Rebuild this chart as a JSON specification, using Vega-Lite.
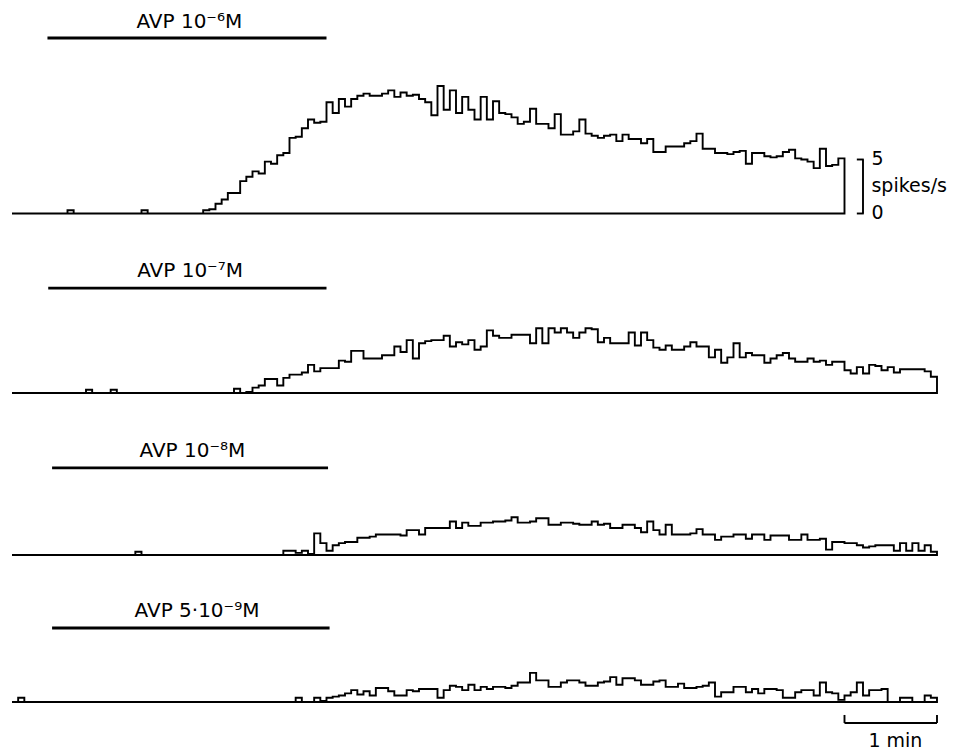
{
"$schema": "https://vega.github.io/schema/vega-lite/v6.json",
"padding": 0,
"spacing": 0,
"background": "white",
"config": {"view": {"stroke": null}, "axis": {"disable": true}, "text": {"font": "DejaVu Sans", "color": "black"}},
"resolve": {"scale": {"x": "independent", "y": "independent"}},
"datasets": {
"app": [
{"p":1,"start":23,"end":204,"label":"AVP 10⁻⁶M"},
{"p":2,"start":23.5,"end":204,"label":"AVP 10⁻⁷M"},
{"p":3,"start":26,"end":205,"label":"AVP 10⁻⁸M"},
{"p":4,"start":26,"end":206,"label":"AVP 5·10⁻⁹M"}
],
"hist": [
{"p":1,"t":0,"r":0},{"p":1,"t":4,"r":0},{"p":1,"t":8,"r":0},{"p":1,"t":12,"r":0},{"p":1,"t":16,"r":0},{"p":1,"t":20,"r":0},{"p":1,"t":24,"r":0},{"p":1,"t":28,"r":0},{"p":1,"t":32,"r":0},{"p":1,"t":36,"r":0.3},
{"p":1,"t":40,"r":0},{"p":1,"t":44,"r":0},{"p":1,"t":48,"r":0},{"p":1,"t":52,"r":0},{"p":1,"t":56,"r":0},{"p":1,"t":60,"r":0},{"p":1,"t":64,"r":0},{"p":1,"t":68,"r":0},{"p":1,"t":72,"r":0},{"p":1,"t":76,"r":0},
{"p":1,"t":80,"r":0},{"p":1,"t":84,"r":0.3},{"p":1,"t":88,"r":0},{"p":1,"t":92,"r":0},{"p":1,"t":96,"r":0},{"p":1,"t":100,"r":0},{"p":1,"t":104,"r":0},{"p":1,"t":108,"r":0},{"p":1,"t":112,"r":0},{"p":1,"t":116,"r":0},
{"p":1,"t":120,"r":0},{"p":1,"t":124,"r":0.3},{"p":1,"t":128,"r":0.4},{"p":1,"t":132,"r":0.9},{"p":1,"t":136,"r":1.3},{"p":1,"t":140,"r":1.9},{"p":1,"t":144,"r":1.9},{"p":1,"t":148,"r":3.0},{"p":1,"t":152,"r":3.4},{"p":1,"t":156,"r":3.9},
{"p":1,"t":160,"r":3.7},{"p":1,"t":164,"r":4.8},{"p":1,"t":168,"r":4.6},{"p":1,"t":172,"r":5.4},{"p":1,"t":176,"r":5.6},{"p":1,"t":180,"r":7.0},{"p":1,"t":184,"r":7.1},{"p":1,"t":188,"r":7.9},{"p":1,"t":192,"r":8.7},{"p":1,"t":196,"r":8.4},
{"p":1,"t":200,"r":8.5},{"p":1,"t":204,"r":10.3},{"p":1,"t":208,"r":9.3},{"p":1,"t":212,"r":10.6},{"p":1,"t":216,"r":9.9},{"p":1,"t":220,"r":10.6},{"p":1,"t":224,"r":10.9},{"p":1,"t":228,"r":11.1},{"p":1,"t":232,"r":10.9},{"p":1,"t":236,"r":10.9},
{"p":1,"t":240,"r":11.1},{"p":1,"t":244,"r":11.4},{"p":1,"t":248,"r":10.8},{"p":1,"t":252,"r":11.2},{"p":1,"t":256,"r":10.9},{"p":1,"t":260,"r":11.0},{"p":1,"t":264,"r":10.6},{"p":1,"t":268,"r":10.3},{"p":1,"t":272,"r":9.1},{"p":1,"t":276,"r":11.8},
{"p":1,"t":280,"r":9.6},{"p":1,"t":284,"r":11.4},{"p":1,"t":288,"r":9.3},{"p":1,"t":292,"r":10.8},{"p":1,"t":296,"r":9.6},{"p":1,"t":300,"r":8.7},{"p":1,"t":304,"r":10.8},{"p":1,"t":308,"r":8.7},{"p":1,"t":312,"r":10.4},{"p":1,"t":316,"r":9.3},
{"p":1,"t":320,"r":9.2},{"p":1,"t":324,"r":8.9},{"p":1,"t":328,"r":8.3},{"p":1,"t":332,"r":8.5},{"p":1,"t":336,"r":9.7},{"p":1,"t":340,"r":8.3},{"p":1,"t":344,"r":8.3},{"p":1,"t":348,"r":7.9},{"p":1,"t":352,"r":9.2},{"p":1,"t":356,"r":7.3},
{"p":1,"t":360,"r":7.3},{"p":1,"t":364,"r":7.6},{"p":1,"t":368,"r":8.7},{"p":1,"t":372,"r":7.4},{"p":1,"t":376,"r":7.2},{"p":1,"t":380,"r":7.0},{"p":1,"t":384,"r":7.2},{"p":1,"t":388,"r":7.3},{"p":1,"t":392,"r":6.7},{"p":1,"t":396,"r":7.3},
{"p":1,"t":400,"r":6.9},{"p":1,"t":404,"r":6.9},{"p":1,"t":408,"r":6.5},{"p":1,"t":412,"r":6.9},{"p":1,"t":416,"r":5.7},{"p":1,"t":420,"r":5.7},{"p":1,"t":424,"r":6.2},{"p":1,"t":428,"r":6.2},{"p":1,"t":432,"r":6.2},{"p":1,"t":436,"r":6.5},
{"p":1,"t":440,"r":6.7},{"p":1,"t":444,"r":7.4},{"p":1,"t":448,"r":6.0},{"p":1,"t":452,"r":6.0},{"p":1,"t":456,"r":5.6},{"p":1,"t":460,"r":5.6},{"p":1,"t":464,"r":5.5},{"p":1,"t":468,"r":5.7},{"p":1,"t":472,"r":5.8},{"p":1,"t":476,"r":4.6},
{"p":1,"t":480,"r":5.6},{"p":1,"t":484,"r":5.6},{"p":1,"t":488,"r":5.3},{"p":1,"t":492,"r":5.2},{"p":1,"t":496,"r":5.3},{"p":1,"t":500,"r":5.7},{"p":1,"t":504,"r":5.9},{"p":1,"t":508,"r":5.1},{"p":1,"t":512,"r":5.0},{"p":1,"t":516,"r":4.8},
{"p":1,"t":520,"r":4.2},{"p":1,"t":524,"r":6.0},{"p":1,"t":528,"r":4.4},{"p":1,"t":532,"r":4.5},{"p":1,"t":536,"r":5.1},{"p":1,"t":540,"r":5.1},

{"p":2,"t":0,"r":0},{"p":2,"t":4,"r":0},{"p":2,"t":8,"r":0},{"p":2,"t":12,"r":0},{"p":2,"t":16,"r":0},{"p":2,"t":20,"r":0},{"p":2,"t":24,"r":0},{"p":2,"t":28,"r":0},{"p":2,"t":32,"r":0},{"p":2,"t":36,"r":0},
{"p":2,"t":40,"r":0},{"p":2,"t":44,"r":0},{"p":2,"t":48,"r":0.3},{"p":2,"t":52,"r":0},{"p":2,"t":56,"r":0},{"p":2,"t":60,"r":0},{"p":2,"t":64,"r":0.3},{"p":2,"t":68,"r":0},{"p":2,"t":72,"r":0},{"p":2,"t":76,"r":0},
{"p":2,"t":80,"r":0},{"p":2,"t":84,"r":0},{"p":2,"t":88,"r":0},{"p":2,"t":92,"r":0},{"p":2,"t":96,"r":0},{"p":2,"t":100,"r":0},{"p":2,"t":104,"r":0},{"p":2,"t":108,"r":0},{"p":2,"t":112,"r":0},{"p":2,"t":116,"r":0},
{"p":2,"t":120,"r":0},{"p":2,"t":124,"r":0},{"p":2,"t":128,"r":0},{"p":2,"t":132,"r":0},{"p":2,"t":136,"r":0},{"p":2,"t":140,"r":0},{"p":2,"t":144,"r":0.4},{"p":2,"t":148,"r":0},{"p":2,"t":152,"r":0.1},{"p":2,"t":156,"r":0.5},
{"p":2,"t":160,"r":0.7},{"p":2,"t":164,"r":1.3},{"p":2,"t":168,"r":1.3},{"p":2,"t":172,"r":0.7},{"p":2,"t":176,"r":1.4},{"p":2,"t":180,"r":1.7},{"p":2,"t":184,"r":1.7},{"p":2,"t":188,"r":1.9},{"p":2,"t":192,"r":2.6},{"p":2,"t":196,"r":2.0},
{"p":2,"t":200,"r":2.3},{"p":2,"t":204,"r":2.3},{"p":2,"t":208,"r":2.3},{"p":2,"t":212,"r":3.0},{"p":2,"t":216,"r":2.9},{"p":2,"t":220,"r":3.9},{"p":2,"t":224,"r":3.9},{"p":2,"t":228,"r":3.2},{"p":2,"t":232,"r":3.2},{"p":2,"t":236,"r":3.2},
{"p":2,"t":240,"r":3.5},{"p":2,"t":244,"r":3.5},{"p":2,"t":248,"r":4.3},{"p":2,"t":252,"r":3.8},{"p":2,"t":256,"r":4.9},{"p":2,"t":260,"r":3.2},{"p":2,"t":264,"r":4.6},{"p":2,"t":268,"r":4.8},{"p":2,"t":272,"r":4.9},{"p":2,"t":276,"r":4.9},
{"p":2,"t":280,"r":5.3},{"p":2,"t":284,"r":4.3},{"p":2,"t":288,"r":4.7},{"p":2,"t":292,"r":4.5},{"p":2,"t":296,"r":4.9},{"p":2,"t":300,"r":4.0},{"p":2,"t":304,"r":4.3},{"p":2,"t":308,"r":5.8},{"p":2,"t":312,"r":5.3},{"p":2,"t":316,"r":5.1},
{"p":2,"t":320,"r":5.1},{"p":2,"t":324,"r":5.4},{"p":2,"t":328,"r":5.4},{"p":2,"t":332,"r":5.4},{"p":2,"t":336,"r":4.6},{"p":2,"t":340,"r":6.0},{"p":2,"t":344,"r":4.6},{"p":2,"t":348,"r":6.0},{"p":2,"t":352,"r":5.6},{"p":2,"t":356,"r":6.0},
{"p":2,"t":360,"r":5.6},{"p":2,"t":364,"r":5.1},{"p":2,"t":368,"r":5.6},{"p":2,"t":372,"r":6.0},{"p":2,"t":376,"r":5.9},{"p":2,"t":380,"r":4.7},{"p":2,"t":384,"r":5.1},{"p":2,"t":388,"r":4.6},{"p":2,"t":392,"r":4.6},{"p":2,"t":396,"r":4.6},
{"p":2,"t":400,"r":5.6},{"p":2,"t":404,"r":4.4},{"p":2,"t":408,"r":5.6},{"p":2,"t":412,"r":4.9},{"p":2,"t":416,"r":4.2},{"p":2,"t":420,"r":4.0},{"p":2,"t":424,"r":4.4},{"p":2,"t":428,"r":4.0},{"p":2,"t":432,"r":4.0},{"p":2,"t":436,"r":4.3},
{"p":2,"t":440,"r":4.7},{"p":2,"t":444,"r":4.3},{"p":2,"t":448,"r":4.3},{"p":2,"t":452,"r":3.3},{"p":2,"t":456,"r":4.0},{"p":2,"t":460,"r":2.8},{"p":2,"t":464,"r":3.3},{"p":2,"t":468,"r":4.6},{"p":2,"t":472,"r":3.3},{"p":2,"t":476,"r":3.7},
{"p":2,"t":480,"r":3.5},{"p":2,"t":484,"r":3.5},{"p":2,"t":488,"r":2.8},{"p":2,"t":492,"r":3.2},{"p":2,"t":496,"r":3.5},{"p":2,"t":500,"r":3.7},{"p":2,"t":504,"r":3.2},{"p":2,"t":508,"r":2.9},{"p":2,"t":512,"r":2.9},{"p":2,"t":516,"r":3.2},
{"p":2,"t":520,"r":2.9},{"p":2,"t":524,"r":3.0},{"p":2,"t":528,"r":2.6},{"p":2,"t":532,"r":2.9},{"p":2,"t":536,"r":2.9},{"p":2,"t":540,"r":2.1},{"p":2,"t":544,"r":1.8},{"p":2,"t":548,"r":2.4},{"p":2,"t":552,"r":1.8},{"p":2,"t":556,"r":2.6},
{"p":2,"t":560,"r":2.5},{"p":2,"t":564,"r":2.1},{"p":2,"t":568,"r":2.4},{"p":2,"t":572,"r":1.9},{"p":2,"t":576,"r":2.2},{"p":2,"t":580,"r":2.2},{"p":2,"t":584,"r":2.2},{"p":2,"t":588,"r":2.2},{"p":2,"t":592,"r":2.0},{"p":2,"t":596,"r":1.5},{"p":2,"t":600,"r":1.5},

{"p":3,"t":0,"r":0},{"p":3,"t":4,"r":0},{"p":3,"t":8,"r":0},{"p":3,"t":12,"r":0},{"p":3,"t":16,"r":0},{"p":3,"t":20,"r":0},{"p":3,"t":24,"r":0},{"p":3,"t":28,"r":0},{"p":3,"t":32,"r":0},{"p":3,"t":36,"r":0},
{"p":3,"t":40,"r":0},{"p":3,"t":44,"r":0},{"p":3,"t":48,"r":0},{"p":3,"t":52,"r":0},{"p":3,"t":56,"r":0},{"p":3,"t":60,"r":0},{"p":3,"t":64,"r":0},{"p":3,"t":68,"r":0},{"p":3,"t":72,"r":0},{"p":3,"t":76,"r":0},
{"p":3,"t":80,"r":0.3},{"p":3,"t":84,"r":0},{"p":3,"t":88,"r":0},{"p":3,"t":92,"r":0},{"p":3,"t":96,"r":0},{"p":3,"t":100,"r":0},{"p":3,"t":104,"r":0},{"p":3,"t":108,"r":0},{"p":3,"t":112,"r":0},{"p":3,"t":116,"r":0},
{"p":3,"t":120,"r":0},{"p":3,"t":124,"r":0},{"p":3,"t":128,"r":0},{"p":3,"t":132,"r":0},{"p":3,"t":136,"r":0},{"p":3,"t":140,"r":0},{"p":3,"t":144,"r":0},{"p":3,"t":148,"r":0},{"p":3,"t":152,"r":0},{"p":3,"t":156,"r":0},
{"p":3,"t":160,"r":0},{"p":3,"t":164,"r":0},{"p":3,"t":168,"r":0},{"p":3,"t":172,"r":0},{"p":3,"t":176,"r":0.4},{"p":3,"t":180,"r":0.4},{"p":3,"t":184,"r":0.2},{"p":3,"t":188,"r":0.4},{"p":3,"t":192,"r":0.1},{"p":3,"t":196,"r":2.0},
{"p":3,"t":200,"r":1.1},{"p":3,"t":204,"r":0.4},{"p":3,"t":208,"r":0.9},{"p":3,"t":212,"r":1.1},{"p":3,"t":216,"r":1.2},{"p":3,"t":220,"r":1.2},{"p":3,"t":224,"r":1.6},{"p":3,"t":228,"r":1.6},{"p":3,"t":232,"r":1.7},{"p":3,"t":236,"r":1.9},
{"p":3,"t":240,"r":1.9},{"p":3,"t":244,"r":1.9},{"p":3,"t":248,"r":1.9},{"p":3,"t":252,"r":1.8},{"p":3,"t":256,"r":2.3},{"p":3,"t":260,"r":2.3},{"p":3,"t":264,"r":1.9},{"p":3,"t":268,"r":2.5},{"p":3,"t":272,"r":2.5},{"p":3,"t":276,"r":2.5},
{"p":3,"t":280,"r":2.5},{"p":3,"t":284,"r":3.1},{"p":3,"t":288,"r":2.5},{"p":3,"t":292,"r":3.0},{"p":3,"t":296,"r":2.7},{"p":3,"t":300,"r":2.7},{"p":3,"t":304,"r":3.0},{"p":3,"t":308,"r":3.0},{"p":3,"t":312,"r":3.1},{"p":3,"t":316,"r":3.1},
{"p":3,"t":320,"r":3.2},{"p":3,"t":324,"r":3.5},{"p":3,"t":328,"r":3.0},{"p":3,"t":332,"r":3.0},{"p":3,"t":336,"r":3.1},{"p":3,"t":340,"r":3.4},{"p":3,"t":344,"r":3.4},{"p":3,"t":348,"r":2.8},{"p":3,"t":352,"r":2.8},{"p":3,"t":356,"r":3.0},
{"p":3,"t":360,"r":3.0},{"p":3,"t":364,"r":2.9},{"p":3,"t":368,"r":2.8},{"p":3,"t":372,"r":2.8},{"p":3,"t":376,"r":3.1},{"p":3,"t":380,"r":2.8},{"p":3,"t":384,"r":2.9},{"p":3,"t":388,"r":2.5},{"p":3,"t":392,"r":2.5},{"p":3,"t":396,"r":2.8},
{"p":3,"t":400,"r":2.8},{"p":3,"t":404,"r":2.5},{"p":3,"t":408,"r":2.1},{"p":3,"t":412,"r":3.1},{"p":3,"t":416,"r":2.3},{"p":3,"t":420,"r":1.9},{"p":3,"t":424,"r":2.8},{"p":3,"t":428,"r":1.9},{"p":3,"t":432,"r":1.9},{"p":3,"t":436,"r":1.9},
{"p":3,"t":440,"r":2.0},{"p":3,"t":444,"r":2.4},{"p":3,"t":448,"r":1.9},{"p":3,"t":452,"r":1.9},{"p":3,"t":456,"r":1.4},{"p":3,"t":460,"r":1.7},{"p":3,"t":464,"r":1.7},{"p":3,"t":468,"r":1.9},{"p":3,"t":472,"r":1.9},{"p":3,"t":476,"r":1.5},
{"p":3,"t":480,"r":1.9},{"p":3,"t":484,"r":1.9},{"p":3,"t":488,"r":1.4},{"p":3,"t":492,"r":1.8},{"p":3,"t":496,"r":1.8},{"p":3,"t":500,"r":1.8},{"p":3,"t":504,"r":1.4},{"p":3,"t":508,"r":1.4},{"p":3,"t":512,"r":1.9},{"p":3,"t":516,"r":1.4},
{"p":3,"t":520,"r":1.4},{"p":3,"t":524,"r":1.5},{"p":3,"t":528,"r":0.5},{"p":3,"t":532,"r":1.2},{"p":3,"t":536,"r":1.2},{"p":3,"t":540,"r":1.1},{"p":3,"t":544,"r":1.1},{"p":3,"t":548,"r":0.9},{"p":3,"t":552,"r":0.7},{"p":3,"t":556,"r":0.8},
{"p":3,"t":560,"r":0.9},{"p":3,"t":564,"r":0.9},{"p":3,"t":568,"r":0.9},{"p":3,"t":572,"r":0.4},{"p":3,"t":576,"r":1.1},{"p":3,"t":580,"r":0.4},{"p":3,"t":584,"r":1.1},{"p":3,"t":588,"r":0.4},{"p":3,"t":592,"r":0.9},{"p":3,"t":596,"r":0.3},{"p":3,"t":600,"r":0.3},

{"p":4,"t":0,"r":0},{"p":4,"t":4,"r":0.4},{"p":4,"t":8,"r":0},{"p":4,"t":12,"r":0},{"p":4,"t":16,"r":0},{"p":4,"t":20,"r":0},{"p":4,"t":24,"r":0},{"p":4,"t":28,"r":0},{"p":4,"t":32,"r":0},{"p":4,"t":36,"r":0},
{"p":4,"t":40,"r":0},{"p":4,"t":44,"r":0},{"p":4,"t":48,"r":0},{"p":4,"t":52,"r":0},{"p":4,"t":56,"r":0},{"p":4,"t":60,"r":0},{"p":4,"t":64,"r":0},{"p":4,"t":68,"r":0},{"p":4,"t":72,"r":0},{"p":4,"t":76,"r":0},
{"p":4,"t":80,"r":0},{"p":4,"t":84,"r":0},{"p":4,"t":88,"r":0},{"p":4,"t":92,"r":0},{"p":4,"t":96,"r":0},{"p":4,"t":100,"r":0},{"p":4,"t":104,"r":0},{"p":4,"t":108,"r":0},{"p":4,"t":112,"r":0},{"p":4,"t":116,"r":0},
{"p":4,"t":120,"r":0},{"p":4,"t":124,"r":0},{"p":4,"t":128,"r":0},{"p":4,"t":132,"r":0},{"p":4,"t":136,"r":0},{"p":4,"t":140,"r":0},{"p":4,"t":144,"r":0},{"p":4,"t":148,"r":0},{"p":4,"t":152,"r":0},{"p":4,"t":156,"r":0},
{"p":4,"t":160,"r":0},{"p":4,"t":164,"r":0},{"p":4,"t":168,"r":0},{"p":4,"t":172,"r":0},{"p":4,"t":176,"r":0},{"p":4,"t":180,"r":0},{"p":4,"t":184,"r":0.4},{"p":4,"t":188,"r":0},{"p":4,"t":192,"r":0},{"p":4,"t":196,"r":0.4},
{"p":4,"t":200,"r":0.1},{"p":4,"t":204,"r":0.4},{"p":4,"t":208,"r":0.5},{"p":4,"t":212,"r":0.6},{"p":4,"t":216,"r":0.8},{"p":4,"t":220,"r":1.1},{"p":4,"t":224,"r":0.7},{"p":4,"t":228,"r":1.0},{"p":4,"t":232,"r":0.6},{"p":4,"t":236,"r":1.3},
{"p":4,"t":240,"r":1.3},{"p":4,"t":244,"r":1.0},{"p":4,"t":248,"r":0.6},{"p":4,"t":252,"r":0.6},{"p":4,"t":256,"r":1.1},{"p":4,"t":260,"r":1.0},{"p":4,"t":264,"r":1.2},{"p":4,"t":268,"r":1.2},{"p":4,"t":272,"r":1.2},{"p":4,"t":276,"r":0.4},
{"p":4,"t":280,"r":1.1},{"p":4,"t":284,"r":1.5},{"p":4,"t":288,"r":1.4},{"p":4,"t":292,"r":1.1},{"p":4,"t":296,"r":1.6},{"p":4,"t":300,"r":1.1},{"p":4,"t":304,"r":1.4},{"p":4,"t":308,"r":1.2},{"p":4,"t":312,"r":1.4},{"p":4,"t":316,"r":1.4},
{"p":4,"t":320,"r":1.3},{"p":4,"t":324,"r":1.5},{"p":4,"t":328,"r":1.8},{"p":4,"t":332,"r":1.8},{"p":4,"t":336,"r":2.7},{"p":4,"t":340,"r":2.0},{"p":4,"t":344,"r":2.0},{"p":4,"t":348,"r":1.4},{"p":4,"t":352,"r":1.4},{"p":4,"t":356,"r":1.8},
{"p":4,"t":360,"r":2.0},{"p":4,"t":364,"r":2.0},{"p":4,"t":368,"r":1.8},{"p":4,"t":372,"r":1.5},{"p":4,"t":376,"r":1.5},{"p":4,"t":380,"r":1.8},{"p":4,"t":384,"r":1.9},{"p":4,"t":388,"r":2.3},{"p":4,"t":392,"r":1.6},{"p":4,"t":396,"r":2.2},
{"p":4,"t":400,"r":2.2},{"p":4,"t":404,"r":2.0},{"p":4,"t":408,"r":1.6},{"p":4,"t":412,"r":1.6},{"p":4,"t":416,"r":1.9},{"p":4,"t":420,"r":2.0},{"p":4,"t":424,"r":1.4},{"p":4,"t":428,"r":1.4},{"p":4,"t":432,"r":1.7},{"p":4,"t":436,"r":1.3},
{"p":4,"t":440,"r":1.3},{"p":4,"t":444,"r":1.4},{"p":4,"t":448,"r":1.5},{"p":4,"t":452,"r":1.8},{"p":4,"t":456,"r":0.5},{"p":4,"t":460,"r":0.9},{"p":4,"t":464,"r":0.9},{"p":4,"t":468,"r":1.4},{"p":4,"t":472,"r":1.4},{"p":4,"t":476,"r":0.9},
{"p":4,"t":480,"r":1.2},{"p":4,"t":484,"r":0.8},{"p":4,"t":488,"r":1.2},{"p":4,"t":492,"r":1.2},{"p":4,"t":496,"r":1.1},{"p":4,"t":500,"r":0.4},{"p":4,"t":504,"r":0.4},{"p":4,"t":508,"r":0.9},{"p":4,"t":512,"r":1.1},{"p":4,"t":516,"r":1.1},
{"p":4,"t":520,"r":0.6},{"p":4,"t":524,"r":1.8},{"p":4,"t":528,"r":0.9},{"p":4,"t":532,"r":0.8},{"p":4,"t":536,"r":0.2},{"p":4,"t":540,"r":0.6},{"p":4,"t":544,"r":0.9},{"p":4,"t":548,"r":1.8},{"p":4,"t":552,"r":0.6},{"p":4,"t":556,"r":1.1},
{"p":4,"t":560,"r":1.1},{"p":4,"t":564,"r":1.2},{"p":4,"t":568,"r":0},{"p":4,"t":572,"r":0},{"p":4,"t":576,"r":0.4},{"p":4,"t":580,"r":0.4},{"p":4,"t":584,"r":0},{"p":4,"t":588,"r":0},{"p":4,"t":592,"r":0.6},{"p":4,"t":596,"r":0.4},{"p":4,"t":600,"r":0.4}
]
},
"vconcat": [
{
"width": 969, "height": 235,
"layer": [
{"data": {"name": "hist"}, "transform": [{"filter": "datum.p == 1"}],
 "mark": {"type": "area", "interpolate": "step-after", "fill": "white", "fillOpacity": 0, "stroke": "black", "strokeWidth": 1.9, "strokeJoin": "miter"},
 "encoding": {
  "x": {"field": "t", "type": "quantitative", "scale": {"domain": [-7.784, 620.76], "nice": false, "zero": false}, "axis": null},
  "y": {"field": "r", "type": "quantitative", "scale": {"domain": [-1.991, 19.769], "nice": false, "zero": false}, "axis": null},
  "y2": {"datum": 0}}},
{"data": {"name": "app"}, "transform": [{"filter": "datum.p == 1"}],
 "mark": {"type": "rule", "color": "black", "strokeWidth": 2.8},
 "encoding": {
  "x": {"field": "start", "type": "quantitative", "scale": {"domain": [-7.784, 620.76], "nice": false, "zero": false}, "axis": null},
  "x2": {"field": "end"},
  "y": {"datum": 16.25, "type": "quantitative", "scale": {"domain": [-1.991, 19.769], "nice": false, "zero": false}, "axis": null}}},
{"data": {"name": "app"}, "transform": [{"filter": "datum.p == 1"}],
 "mark": {"type": "text", "align": "center", "baseline": "alphabetic", "fontSize": 20, "font": "DejaVu Sans", "color": "black"},
 "encoding": {
  "x": {"datum": 115, "type": "quantitative", "scale": {"domain": [-7.784, 620.76], "nice": false, "zero": false}, "axis": null},
  "y": {"datum": 17.18, "type": "quantitative", "scale": {"domain": [-1.991, 19.769], "nice": false, "zero": false}, "axis": null},
  "text": {"field": "label"}}},
{"data": {"values": [{"lo": 0, "hi": 5}]},
 "mark": {"type": "rule", "color": "black", "strokeWidth": 1.9},
 "encoding": {
  "x": {"datum": 552, "type": "quantitative", "scale": {"domain": [-7.784, 620.76], "nice": false, "zero": false}, "axis": null},
  "y": {"field": "lo", "type": "quantitative", "scale": {"domain": [-1.991, 19.769], "nice": false, "zero": false}, "axis": null},
  "y2": {"field": "hi"}}},
{"data": {"values": [{"v": 0}, {"v": 5}]},
 "mark": {"type": "rule", "color": "black", "strokeWidth": 1.9},
 "encoding": {
  "x": {"datum": 548, "type": "quantitative", "scale": {"domain": [-7.784, 620.76], "nice": false, "zero": false}, "axis": null},
  "x2": {"datum": 552.5},
  "y": {"field": "v", "type": "quantitative", "scale": {"domain": [-1.991, 19.769], "nice": false, "zero": false}, "axis": null}}},
{"data": {"values": [{"v": 5, "txt": "5"}, {"v": 0, "txt": "0"}]},
 "mark": {"type": "text", "align": "left", "baseline": "middle", "fontSize": 19, "font": "DejaVu Sans", "color": "black"},
 "encoding": {
  "x": {"datum": 557.5, "type": "quantitative", "scale": {"domain": [-7.784, 620.76], "nice": false, "zero": false}, "axis": null},
  "y": {"field": "v", "type": "quantitative", "scale": {"domain": [-1.991, 19.769], "nice": false, "zero": false}, "axis": null},
  "text": {"field": "txt"}}},
{"data": {"values": [{"txt": "spikes/s"}]},
 "mark": {"type": "text", "align": "left", "baseline": "middle", "fontSize": 19, "font": "DejaVu Sans", "color": "black"},
 "encoding": {
  "x": {"datum": 557.5, "type": "quantitative", "scale": {"domain": [-7.784, 620.76], "nice": false, "zero": false}, "axis": null},
  "y": {"datum": 2.55, "type": "quantitative", "scale": {"domain": [-1.991, 19.769], "nice": false, "zero": false}, "axis": null},
  "text": {"field": "txt"}}}
]
},
{
"width": 969, "height": 175,
"layer": [
{"data": {"name": "hist"}, "transform": [{"filter": "datum.p == 2"}],
 "mark": {"type": "area", "interpolate": "step-after", "fill": "white", "fillOpacity": 0, "stroke": "black", "strokeWidth": 1.9, "strokeJoin": "miter"},
 "encoding": {
  "x": {"field": "t", "type": "quantitative", "scale": {"domain": [-7.784, 620.76], "nice": false, "zero": false}, "axis": null},
  "y": {"field": "r", "type": "quantitative", "scale": {"domain": [-1.574, 14.63], "nice": false, "zero": false}, "axis": null},
  "y2": {"datum": 0}}},
{"data": {"name": "app"}, "transform": [{"filter": "datum.p == 2"}],
 "mark": {"type": "rule", "color": "black", "strokeWidth": 2.8},
 "encoding": {
  "x": {"field": "start", "type": "quantitative", "scale": {"domain": [-7.784, 620.76], "nice": false, "zero": false}, "axis": null},
  "x2": {"field": "end"},
  "y": {"datum": 9.72, "type": "quantitative", "scale": {"domain": [-1.574, 14.63], "nice": false, "zero": false}, "axis": null}}},
{"data": {"name": "app"}, "transform": [{"filter": "datum.p == 2"}],
 "mark": {"type": "text", "align": "center", "baseline": "alphabetic", "fontSize": 20, "font": "DejaVu Sans", "color": "black"},
 "encoding": {
  "x": {"datum": 115.5, "type": "quantitative", "scale": {"domain": [-7.784, 620.76], "nice": false, "zero": false}, "axis": null},
  "y": {"datum": 10.74, "type": "quantitative", "scale": {"domain": [-1.574, 14.63], "nice": false, "zero": false}, "axis": null},
  "text": {"field": "label"}}}
]
},
{
"width": 969, "height": 160,
"layer": [
{"data": {"name": "hist"}, "transform": [{"filter": "datum.p == 3"}],
 "mark": {"type": "area", "interpolate": "step-after", "fill": "white", "fillOpacity": 0, "stroke": "black", "strokeWidth": 1.9, "strokeJoin": "miter"},
 "encoding": {
  "x": {"field": "t", "type": "quantitative", "scale": {"domain": [-7.784, 620.76], "nice": false, "zero": false}, "axis": null},
  "y": {"field": "r", "type": "quantitative", "scale": {"domain": [-1.389, 13.426], "nice": false, "zero": false}, "axis": null},
  "y2": {"datum": 0}}},
{"data": {"name": "app"}, "transform": [{"filter": "datum.p == 3"}],
 "mark": {"type": "rule", "color": "black", "strokeWidth": 2.8},
 "encoding": {
  "x": {"field": "start", "type": "quantitative", "scale": {"domain": [-7.784, 620.76], "nice": false, "zero": false}, "axis": null},
  "x2": {"field": "end"},
  "y": {"datum": 8.06, "type": "quantitative", "scale": {"domain": [-1.389, 13.426], "nice": false, "zero": false}, "axis": null}}},
{"data": {"name": "app"}, "transform": [{"filter": "datum.p == 3"}],
 "mark": {"type": "text", "align": "center", "baseline": "alphabetic", "fontSize": 20, "font": "DejaVu Sans", "color": "black"},
 "encoding": {
  "x": {"datum": 117, "type": "quantitative", "scale": {"domain": [-7.784, 620.76], "nice": false, "zero": false}, "axis": null},
  "y": {"datum": 9.07, "type": "quantitative", "scale": {"domain": [-1.389, 13.426], "nice": false, "zero": false}, "axis": null},
  "text": {"field": "label"}}}
]
},
{
"width": 969, "height": 180,
"layer": [
{"data": {"name": "hist"}, "transform": [{"filter": "datum.p == 4"}],
 "mark": {"type": "area", "interpolate": "step-after", "fill": "white", "fillOpacity": 0, "stroke": "black", "strokeWidth": 1.9, "strokeJoin": "miter"},
 "encoding": {
  "x": {"field": "t", "type": "quantitative", "scale": {"domain": [-7.784, 620.76], "nice": false, "zero": false}, "axis": null},
  "y": {"field": "r", "type": "quantitative", "scale": {"domain": [-4.444, 12.222], "nice": false, "zero": false}, "axis": null},
  "y2": {"datum": 0}}},
{"data": {"name": "app"}, "transform": [{"filter": "datum.p == 4"}],
 "mark": {"type": "rule", "color": "black", "strokeWidth": 2.8},
 "encoding": {
  "x": {"field": "start", "type": "quantitative", "scale": {"domain": [-7.784, 620.76], "nice": false, "zero": false}, "axis": null},
  "x2": {"field": "end"},
  "y": {"datum": 6.85, "type": "quantitative", "scale": {"domain": [-4.444, 12.222], "nice": false, "zero": false}, "axis": null}}},
{"data": {"name": "app"}, "transform": [{"filter": "datum.p == 4"}],
 "mark": {"type": "text", "align": "center", "baseline": "alphabetic", "fontSize": 20, "font": "DejaVu Sans", "color": "black"},
 "encoding": {
  "x": {"datum": 120, "type": "quantitative", "scale": {"domain": [-7.784, 620.76], "nice": false, "zero": false}, "axis": null},
  "y": {"datum": 7.87, "type": "quantitative", "scale": {"domain": [-4.444, 12.222], "nice": false, "zero": false}, "axis": null},
  "text": {"field": "label"}}},
{"data": {"values": [{"start": 540, "end": 600}]},
 "mark": {"type": "rule", "color": "black", "strokeWidth": 1.9},
 "encoding": {
  "x": {"field": "start", "type": "quantitative", "scale": {"domain": [-7.784, 620.76], "nice": false, "zero": false}, "axis": null},
  "x2": {"field": "end"},
  "y": {"datum": -1.94, "type": "quantitative", "scale": {"domain": [-4.444, 12.222], "nice": false, "zero": false}, "axis": null}}},
{"data": {"values": [{"t": 540}, {"t": 600}]},
 "mark": {"type": "rule", "color": "black", "strokeWidth": 1.9},
 "encoding": {
  "x": {"field": "t", "type": "quantitative", "scale": {"domain": [-7.784, 620.76], "nice": false, "zero": false}, "axis": null},
  "y": {"datum": -1.94, "type": "quantitative", "scale": {"domain": [-4.444, 12.222], "nice": false, "zero": false}, "axis": null},
  "y2": {"datum": -1.2}}},
{"data": {"values": [{"txt": "1 min"}]},
 "mark": {"type": "text", "align": "center", "baseline": "alphabetic", "fontSize": 19, "font": "DejaVu Sans", "color": "black"},
 "encoding": {
  "x": {"datum": 573, "type": "quantitative", "scale": {"domain": [-7.784, 620.76], "nice": false, "zero": false}, "axis": null},
  "y": {"datum": -4.17, "type": "quantitative", "scale": {"domain": [-4.444, 12.222], "nice": false, "zero": false}, "axis": null},
  "text": {"field": "txt"}}}
]
}
]
}
